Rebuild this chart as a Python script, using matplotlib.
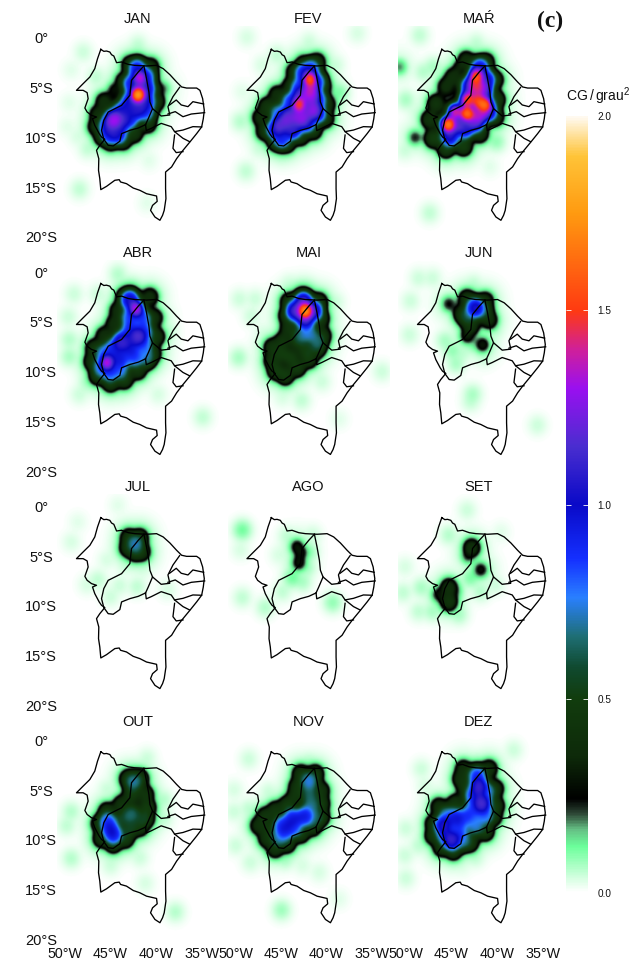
import numpy as np
import matplotlib
matplotlib.use("Agg")
import matplotlib.pyplot as plt
from matplotlib.colors import LinearSegmentedColormap

plt.rcParams['font.family'] = ['Liberation Sans', 'DejaVu Sans']
plt.rcParams['mathtext.default'] = 'regular'

MONTHS = ['JAN', 'FEV', 'MAŔ', 'ABR', 'MAI', 'JUN', 'JUL', 'AGO', 'SET', 'OUT', 'NOV', 'DEZ']
LON_TICKS = [-50, -45, -40, -35]
LON_LABELS = ['50°W', '45°W', '40°W', '35°W']
LAT_TICKS = [0, -5, -10, -15, -20]
LAT_LABELS = ['0°', '5°S', '10°S', '15°S', '20°S']
CBAR_TICKS = [0.0, 0.5, 1.0, 1.5, 2.0]

# density centres: (lon, lat, CG/grau2)
JAN = [(-42.0,-5.7,1.85),(-41.8,-4.0,1.4),(-42.1,-3.05,.95),(-42.7,-4.6,.95),(-41.1,-3.9,.9),(-41.1,-5.1,1.05),
       (-41.1,-6.4,1.0),(-42.9,-6.4,1.0),(-42,-7.2,1.05),(-43.8,-7.4,1.0),(-44.7,-8.2,1.3),(-45.3,-8.9,1.0),
       (-45.1,-9.7,.95),(-44.2,-9.7,1.0),(-43.8,-8.5,1.05),(-42.9,-8.1,.95),(-41.1,-7.4,.85),
       (-42.9,-2.7,.4),(-40.6,-2.9,.4),(-43.8,-4.2,.35),(-44.6,-5.2,.3),(-40,-5.1,.35),(-40,-6.4,.45),(-45.7,-6.4,.4),
       (-46.4,-7.7,.4),(-46.6,-8.9,.4),(-45.9,-9.9,.45),(-45,-10.4,.45),(-43.6,-10.3,.45),(-42.4,-9.6,.45),(-40.9,-8.6,.45),
       (-39.2,-5.1,.2),(-48,-1.4,.05),(-49.3,-3.2,.03),(-49.5,-6.5,.03),(-49.7,-8.9,.03),(-48.6,-9.9,.04),(-47.5,-11.1,.06),
       (-48.4,-15.2,.06),(-41,-16.6,.03),(-40.8,-12.3,.03),(-42,-.7,.06),(-46.6,-3.9,.06),(-47,-6.9,.06)]
FEV = [(-41.9,-4.1,1.6),(-43.1,-6.7,1.55),(-41.8,-5.7,1.3),(-41.8,-4.8,1.25),(-42.9,-5.8,1.15),(-41.6,-7.2,1.25),
       (-42.9,-8,1.25),(-44.2,-7.9,1.2),(-45.1,-8.7,1.15),(-45.7,-9.2,1.0),(-45,-10.2,.9),(-43.8,-9.2,1.1),(-42.3,-8.5,1.05),
       (-41.1,-7.6,1.0),(-41,-6.2,.9),(-41.1,-4.4,.85),(-42.6,-3.5,.95),(-41.8,-3.1,.9),(-43.1,-4.9,.85),(-44,-6.4,.9),(-45.3,-7.6,.8),
       (-42.7,-2.4,.35),(-41.1,-2.4,.4),(-43.6,-3.4,.4),(-44.3,-4.7,.35),(-45.5,-5.7,.4),(-46.6,-6.9,.45),(-47.3,-8,.4),
       (-46.9,-9.4,.4),(-45.7,-10.4,.45),(-44.4,-10.6,.45),(-42.9,-9.9,.45),(-41.5,-9.3,.45),(-40.2,-8.1,.45),(-40,-6.7,.4),(-40.2,-4.9,.35),
       (-38.7,-5.5,.12),(-48.8,.1,.04),(-36.7,.5,.04),(-42,-.4,.05),(-49.5,-8.4,.07),(-48.9,-13.4,.06),(-49.3,-5.4,.03),(-47.5,-11.1,.05),
       (-48.4,-7.6,.05),(-46.4,-4.7,.04),(-47.1,-2.7,.04),(-45.5,-1.7,.06),(-39.1,-2.7,.05),(-45,-12,.05)]
MAR = [(-42.3,-3.8,1.6),(-43.3,-6.2,1.6),(-41.3,-6.7,1.65),(-43.3,-7.6,1.7),(-45.4,-8.7,1.75),(-42.1,-6.4,1.55),(-44.6,-7.4,1.45),
       (-42.3,-5.2,1.3),(-42.4,-4.5,1.3),(-41.5,-5.2,1.2),(-41.9,-7.6,1.3),(-44.5,-8.7,1.15),(-45.2,-9.9,1.05),(-43.5,-9.1,1.05),
       (-42.4,-8.4,1.2),(-41,-7.4,1.1),(-43,-4.9,1.05),(-41.9,-3,1.0),(-41.2,-4.2,1.05),
       (-44.1,-2.9,.35),(-43.4,-2.2,.4),(-41.2,-2.4,.4),(-40.2,-4.2,.4),(-40.1,-6.2,.5),(-40.2,-7.9,.45),(-41.9,-9.6,.45),
       (-43.7,-10.9,.5),(-45.6,-11.1,.5),(-47,-10.1,.5),(-47.4,-8.2,.45),(-46.7,-6.6,.45),(-45.6,-4.9,.4),(-44.8,-3.9,.4),(-45.3,-4.2,.3),
       (-49,-10,.25),(-50.7,-2.9,.2),(-50,-6.2,.08),(-48.5,.3,.06),(-42.3,-10.1,.15),(-40.1,-10.4,.1),(-47.4,-17.6,.06),(-40.8,-12.9,.03),
       (-42.3,-.5,.06),(-48.1,-3.4,.07),(-50.1,-11.3,.05),(-47,-2.9,.08),(-49,-7.4,.04)]
ABR = [(-42.2,-3.7,1.4),(-45.4,-9.1,1.4),(-42,-6.5,1.15),(-43.8,-7,1.1),(-42.9,-2.8,1.05),(-42.9,-4.6,.85),(-41.5,-4.7,.85),
       (-42.9,-5.9,.9),(-41.3,-6,.85),(-41.3,-7.4,.8),(-42.9,-7.6,.95),(-44.7,-7.7,.9),(-45.7,-8.2,.8),(-44,-8.7,.95),(-42.4,-8.6,.85),
       (-45.1,-10.1,.85),(-46,-9.6,.8),(-44,-9.8,.8),(-41.1,-8.6,.7),
       (-43.5,-2.5,.4),(-40.7,-2.5,.4),(-44.2,-3.9,.4),(-44.6,-5.2,.4),(-40.2,-4.6,.4),(-40,-6.5,.45),(-40.4,-8.2,.45),(-45.7,-6.4,.4),
       (-46.8,-7.7,.45),(-47,-9,.45),(-46.4,-10.4,.5),(-45,-11.1,.5),(-43.5,-10.8,.5),(-42,-9.9,.45),
       (-49.5,-8.5,.08),(-49.6,-4.5,.05),(-49,-2.2,.05),(-48.4,-12.3,.05),(-44.2,-.2,.07),(-46.4,-2.2,.05),(-47.5,-11.1,.08),(-38.7,-5.9,.06),
       (-34.9,-14.6,.06),(-39.8,-12.3,.04),(-43.8,-12.3,.05),(-42.7,-1.5,.06),(-49.5,-6.8,.07)]
MAI = [(-42.4,-3.9,1.8),(-43.5,-3.9,1.15),(-42.6,-3,1.15),(-41.5,-3.9,1.1),(-42.4,-4.7,1.15),(-42,-6.1,.72),(-41.1,-7,.65),(-42.8,-6.4,.65),
       (-44.2,-3,.45),(-42.7,-2.5,.45),(-40.9,-3,.45),(-44.4,-4.4,.45),(-44.2,-5.7,.45),(-43,-4.9,.5),(-40.7,-4.7,.45),(-40.5,-6.4,.45),
       (-41.1,-7.7,.5),(-42.4,-7.9,.5),(-43.3,-6.9,.5),(-44.9,-7,.45),(-46,-7.6,.45),(-46,-8.9,.45),(-45.6,-9.9,.5),(-44.6,-10.4,.5),
       (-43.3,-9.6,.5),(-44,-8.6,.5),(-42,-8.7,.5),(-45,-8.2,.5),
       (-49.7,-8.6,.08),(-49.6,-2.7,.05),(-47.9,-2.7,.05),(-34,-10,.05),(-42.8,-12.9,.06),(-39.1,-3,.05),(-38.7,-14.8,.03),(-47,-6.1,.04),
       (-44.2,-1.2,.05),(-40.6,-11,.05),(-44.9,-12.6,.04),(-48.3,-4.4,.05)]
JUN = [(-42.4,-3.6,1.05),(-43.3,-4.4,.6),(-41.6,-3.9,.6),(-43.3,-2.7,.45),(-41.3,-2.9,.4),(-43.9,-4.2,.4),(-40.9,-4.8,.4),(-42.9,-5.4,.45),
       (-43.3,-6.4,.35),(-45.3,-3.2,.27),(-41.6,-7.3,.33),(-42.5,-7,.15),(-44.9,-7.9,.1),(-42.7,-12.3,.08),(-42.9,-13,.06),(-44.5,-9.2,.08),
       (-45.7,-6.9,.08),(-47.1,-.6,.05),(-48.6,-.6,.05),(-49.5,-2.9,.05),(-49.6,-6.3,.05),(-35.6,-15.4,.05),(-42.6,-1.2,.06),(-43.8,-8.2,.06),
       (-41.4,-8.6,.05),(-40.2,-5.9,.06)]
JUL = [(-42.3,-3.8,.72),(-43,-3.2,.45),(-41.8,-3.2,.45),(-43.1,-4.2,.45),(-41.6,-4.6,.45),(-42.3,-4.6,.5),
       (-48.6,-1.6,.03),(-44.2,.1,.03),(-49.3,-3.6,.04),(-45.4,-5.4,.04),(-46.4,-7.4,.06),(-42.1,-8.1,.06),(-45,-9.1,.05),(-43.4,-5.9,.05),
       (-41.5,-6.4,.04),(-47.6,-7.9,.04),(-38.8,-8.4,.04),(-44,-8,.05)]
AGO = [(-43.3,-4.1,.32),(-43.1,-5.7,.32),(-42.9,-4.7,.3),(-43.8,-7.2,.13),(-49.3,-2.4,.13),(-49.5,-4.4,.04),(-49.3,-9.2,.06),(-46.8,-10.2,.07),
       (-39.4,-9.7,.1),(-42,-4.6,.1),(-42.2,-6.2,.08),(-44.9,-8.6,.06),(-45.3,-4.9,.04),(-42.7,-7.6,.08),(-44.4,-3,.06),(-41.6,-2.9,.05)]
SET = [(-42.8,-4.2,.42),(-43.2,-5,.25),(-41.8,-6.4,.3),(-45.3,-8.2,.42),(-45.3,-9.6,.45),(-46.4,-8.9,.3),(-44.6,-8.6,.2),(-42.9,-7.2,.12),
       (-45.3,-2.9,.07),(-43.3,-.4,.05),(-50.1,-6.1,.04),(-50.3,-8.7,.06),(-48.3,-8.2,.08),(-48.6,-10.6,.06),(-47.1,-10.6,.08),(-40.2,-7.9,.05),
       (-41.8,-8.6,.07),(-39.6,-2.6,.03),(-44.2,-10.9,.08)]
OUT = [(-45.1,-8.9,.9),(-44.7,-9.5,.95),(-45.3,-8.2,.85),(-42.5,-4.2,.7),(-42.7,-7.5,.65),(-43.6,-7.9,.55),(-41.2,-7.9,.55),
       (-43.1,-3.9,.45),(-41.8,-3.9,.5),(-42.7,-5.5,.5),(-41.2,-5.5,.45),(-41,-6.8,.5),(-43.8,-6.5,.45),(-45.4,-7.2,.45),(-46.2,-8.4,.45),
       (-46,-9.9,.45),(-44.7,-10.4,.5),(-43.4,-9.9,.5),(-41.8,-8.7,.5),(-42.9,-9,.55),
       (-49.3,-7.2,.07),(-49.3,-11.9,.07),(-49.8,-8.6,.06),(-37.9,-17.3,.07),(-41.2,-14.4,.04),(-41,-1.8,.05),(-45.4,-4.9,.05),(-39.2,-6,.07),
       (-41.8,-11.8,.05),(-39.2,-7.9,.06),(-45,-12.6,.05)]
NOV = [(-43.8,-7.9,.95),(-42.5,-7.7,.95),(-44.9,-8.6,.9),(-44.6,-9.2,.85),(-43.7,-8.8,.85),(-42,-4.1,.75),(-41.8,-6.1,.6),(-42,-5.2,.6),
       (-41.8,-6.9,.65),(-45.3,-9.8,.7),(-41.3,-7.9,.6),
       (-42.9,-3.4,.45),(-41.3,-3.4,.45),(-43.3,-4.7,.45),(-43.5,-5.7,.45),(-40.7,-5.1,.45),(-40.7,-6.4,.5),(-40.7,-7.7,.5),(-45.7,-7.1,.45),
       (-46.8,-7.7,.45),(-47.5,-8.6,.42),(-46.4,-8.9,.45),(-46.6,-9.9,.45),(-45.7,-10.9,.45),(-44.4,-10.4,.5),(-42.9,-9.4,.5),(-41.6,-8.7,.5),(-44.4,-6.6,.5),
       (-48.6,-1.9,.05),(-50.2,-5,.04),(-50.2,-7.2,.05),(-50,-10.6,.05),(-48.4,-12.3,.05),(-46.4,-5.2,.05),(-42,-2.2,.07),(-45,-17.1,.09),
       (-40.9,-13.3,.04),(-42.7,-12.6,.04),(-44.6,-12,.08),(-38.7,-16,.03),(-48.6,-6.9,.06)]
DEZ = [(-42,-4.7,1.1),(-41.7,-6.4,1.15),(-45,-10.1,1.1),(-45.9,-8.6,1.05),(-44.6,-7.9,.95),(-42.2,-3.6,.9),(-41.1,-5.2,.75),(-42.6,-5.6,.9),
       (-42.8,-7.2,.85),(-41.3,-7.6,.8),(-43.7,-7.9,.85),(-42.4,-8.6,.75),(-44.2,-9.3,.85),(-45.7,-9.6,.85),(-43.8,-10.1,.7),(-45.5,-7.6,.75),
       (-43.7,-2.9,.4),(-40.9,-2.9,.42),(-44,-3.9,.42),(-43.5,-4.7,.45),(-40.2,-4.9,.42),(-40.2,-6.6,.5),(-46.4,-6.7,.4),(-44.6,-6.4,.45),
       (-47,-8.4,.42),(-47,-9.6,.45),(-46.1,-10.8,.45),(-44.8,-11.1,.5),(-43,-10.3,.5),(-41.3,-9.2,.5),(-40.4,-7.7,.45),
       (-38.2,-1,.05),(-50,-13.9,.05),(-50.1,-11.6,.05),(-48.3,-2.9,.05),(-50,-8.9,.05),(-48.6,-10.6,.06),(-39.1,-6.9,.1),(-39.7,-4.6,.08),
       (-42.4,-11.8,.06),(-47.9,-4.6,.04),(-43.8,-12.8,.03)]
DENSITY = [JAN, FEV, MAR, ABR, MAI, JUN, JUL, AGO, SET, OUT, NOV, DEZ]

# map outlines (lon, lat)
REGION = [(-46.07,-1.14),(-45.74,-1.34),(-45.44,-1.31),(-45.08,-1.41),(-44.89,-1.68),(-44.64,-1.81),(-44.34,-2.48),(-43.79,-2.41),
          (-43.06,-2.65),(-42.33,-2.75),(-41.05,-2.81),(-39.95,-2.75),(-39.22,-3.08),(-38.48,-3.69),(-37.75,-4.42),(-37.2,-4.92),(-36.65,-5.03),
          (-35.55,-5.03),(-35.19,-5.26),(-34.89,-6.1),(-34.71,-7.27),(-34.82,-8.11),(-35,-8.94),(-35.55,-9.61),(-36.29,-10.45),(-37.2,-11.46),
          (-37.75,-12.13),(-38.3,-12.96),(-38.96,-13.47),(-38.96,-15.14),(-38.92,-16.15),(-39.11,-17.32),(-39.29,-17.82),(-39.58,-18.32),
          (-40.13,-17.99),(-40.61,-17.32),(-40.39,-16.82),(-39.88,-16.42),(-39.95,-15.88),(-41.05,-15.65),(-41.78,-15.31),(-42.51,-15.08),
          (-43.25,-14.64),(-43.9,-14.47),(-44.05,-14.24),(-44.53,-14.3),(-45.44,-14.91),(-46.07,-15.24),(-46.18,-14.14),(-46.32,-13.3),
          (-46.29,-12.13),(-46.54,-11.29),(-46.18,-10.79),(-45.63,-10.18),(-45.99,-9.95),(-46.25,-9.61),(-46.73,-8.78),(-46.98,-8.11),
          (-46.54,-7.94),(-47.09,-7.77),(-47.57,-7.44),(-47.82,-7.04),(-47.46,-6.1),(-47.57,-5.49),(-48.01,-5.26),(-48.74,-5.26),(-48.01,-4.59),
          (-47.27,-3.92),(-46.73,-3.08),(-46.43,-2.08),(-46.07,-1.14)]
MA_PI = [(-41.34,-2.81),(-41.96,-3.42),(-42.7,-4.25),(-42.88,-5.76),(-43.79,-6.77),(-45.26,-7.44),(-45.74,-8.27),(-45.99,-9.28),(-45.74,-10.18)]
PI_CE = [(-41.34,-2.81),(-41.05,-4.09),(-40.79,-5.43),(-40.68,-6.43),(-40.39,-7.1),(-40.86,-8.11),(-41.16,-8.71)]
PI_BA = [(-41.16,-8.71),(-41.96,-9.05),(-42.88,-9.28),(-43.79,-9.61),(-43.98,-10.38),(-44.71,-10.85),(-45.26,-10.79),(-45.74,-10.18)]
CE_PE = [(-40.39,-7.1),(-39.44,-7.84),(-38.52,-7.74)]
CE_RN = [(-37.42,-4.96),(-38.15,-5.9),(-38.7,-6.9),(-38.52,-7.64)]
RN_PB = [(-38.52,-6.73),(-37.79,-6.23),(-37.24,-6.73),(-36.5,-6.9),(-35.96,-6.4),(-34.78,-6.63)]
PB_PE = [(-38.7,-7.64),(-37.9,-7.4),(-37.05,-7.91),(-36.14,-7.64),(-34.67,-7.5)]
PE_S = [(-41.16,-8.71),(-41.08,-9.3),(-40.53,-9.08),(-39.44,-8.58),(-38.34,-8.91),(-37.97,-9.41),(-37.05,-9.25),(-35.96,-8.91),(-35,-8.94)]
AL_SE = [(-37.97,-9.41),(-37.05,-10.08),(-36.32,-10.42)]
SE_BA = [(-37.97,-9.75),(-38.15,-11.09),(-37.79,-11.52),(-37.05,-11.42)]
BOUNDARIES = [REGION, MA_PI, PI_CE, PI_BA, CE_PE, CE_RN, RN_PB, PB_PE, PE_S, AL_SE, SE_BA]

CMAP_NODES = [(0,'#ffffff'),(.03,'#dcffe6'),(.117,'#6cff9b'),(.16,'#66c286'),(.2,'#2f4a38'),(.24,'#000000'),(.35,'#0e2a0a'),(.5,'#123d0e'),
              (.58,'#104a30'),(.66,'#1f6f75'),(.76,'#2a80ff'),(.86,'#1530ff'),(1.0,'#0a0ac8'),(1.15,'#4a2ed0'),(1.3,'#9a10f0'),(1.4,'#d0209a'),
              (1.5,'#ff3a12'),(1.75,'#ff9a10'),(1.9,'#ffc438'),(2.0,'#fffaf0')]
cmap = LinearSegmentedColormap.from_list('cg', [(v / 2.0, c) for v, c in CMAP_NODES], N=512)

W, H = 636, 963
LON0, LON1, LAT1, LAT0 = -50.85, -33.15, 1.2, -20.5
PX_LON, PX_LAT = 9.11, 9.95
STEP = 0.06
BW_FAINT = 0.72
POWER = 6.0
BLUR = 0.3
MARGIN = 3.0

lon_grid = np.arange(LON0 - MARGIN, LON1 + MARGIN, STEP)
lat_grid = np.arange(LAT0 - MARGIN, LAT1 + MARGIN, STEP)
XX, YY = np.meshgrid(lon_grid, lat_grid)
fy = np.fft.fftfreq(XX.shape[0], STEP)[:, None]
fx = np.fft.rfftfreq(XX.shape[1], STEP)[None, :]
BLUR_KERNEL = np.exp(-2 * (np.pi * BLUR) ** 2 * (fx ** 2 + fy ** 2))


def reach(val):
    if val >= 1.4:
        return 0.95
    if val >= 0.58:
        return 1.25
    if val >= 0.36:
        return 1.05
    return 0.82


def density_field(centres):
    total = np.zeros_like(XX)
    for lon, lat, val in centres:
        r2 = (XX - lon) ** 2 + (YY - lat) ** 2
        if val < 0.18:
            total += (val * np.exp(-r2 / (2 * BW_FAINT ** 2))) ** POWER
        else:
            total += (val * np.exp(-(r2 / reach(val) ** 2) ** 2)) ** POWER
            total += (0.25 * val * np.exp(-r2 / (2 * 1.2 ** 2))) ** POWER
    field = total ** (1 / POWER)
    return np.fft.irfft2(np.fft.rfft2(field) * BLUR_KERNEL, s=field.shape)


fig = plt.figure(figsize=(W / 100, H / 100), dpi=100, facecolor='white')

for i, (name, centres) in enumerate(zip(MONTHS, DENSITY)):
    row, col = divmod(i, 3)
    left = 65 + 170.5 * col + (LON0 + 50) * PX_LON
    top = 38 + 234.15 * row - LAT1 * PX_LAT
    width = (LON1 - LON0) * PX_LON
    height = (LAT1 - LAT0) * PX_LAT
    ax = fig.add_axes([left / W, 1 - (top + height) / H, width / W, height / H])
    ax.imshow(density_field(centres), extent=[lon_grid[0], lon_grid[-1], lat_grid[0], lat_grid[-1]], origin='lower',
              cmap=cmap, vmin=0, vmax=2, aspect='auto', interpolation='bilinear')
    for line in BOUNDARIES:
        pts = np.array(line)
        ax.plot(pts[:, 0], pts[:, 1], color='black', lw=0.95, solid_joinstyle='round')
    ax.set_xlim(LON0, LON1)
    ax.set_ylim(LAT0, LAT1)
    for s in ax.spines.values():
        s.set_visible(False)
    ax.set_title(name, fontsize=10.5, pad=0, color='#111111')
    if row == 3:
        ax.set_xticks(LON_TICKS, LON_LABELS, fontsize=10.3, color='#111111')
        ax.tick_params(axis='x', length=0, pad=2)
    else:
        ax.set_xticks([])
    if col == 0:
        ax.set_yticks(LAT_TICKS, LAT_LABELS, fontsize=10.5, color='#111111')
        ax.tick_params(axis='y', length=0, pad=11.5)
        for lab in ax.get_yticklabels():
            lab.set_ha('center')
    else:
        ax.set_yticks([])

cax = fig.add_axes([566 / W, 1 - 893 / H, 22 / W, 777 / H])
cax.imshow(np.linspace(0, 2, 800)[:, None], origin='lower', extent=[0, 1, 0, 2], cmap=cmap, vmin=0, vmax=2, aspect='auto')
cax.set_xticks([])
cax.yaxis.tick_right()
cax.set_yticks(CBAR_TICKS, [f'{v:.1f}' for v in CBAR_TICKS], fontsize=7.2, color='#111111')
cax.tick_params(axis='y', length=0, pad=7)
for v in CBAR_TICKS[1:-1]:
    cax.hlines(v, 0, 0.22, color='white', lw=0.6)
    cax.hlines(v, 0.78, 1, color='white', lw=0.6)
for s in cax.spines.values():
    s.set_visible(False)

fig.text(598 / W, 1 - 96 / H, r'CG$\,/\,$grau$^2$', ha='center', va='center', fontsize=10, color='#111111')
fig.text(550 / W, 1 - 21 / H, '(c)', ha='center', va='center', fontsize=17, fontweight='bold', family='Liberation Serif', color='#111111')

fig.savefig('out.png', dpi=100)
